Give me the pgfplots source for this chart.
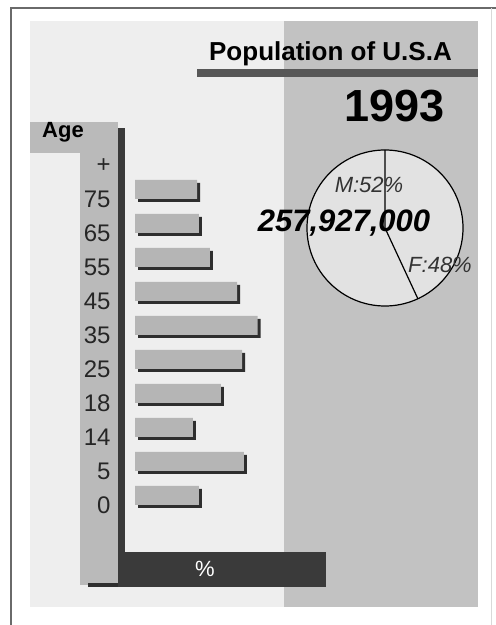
\documentclass[border=0pt]{standalone}
\usepackage{pgfplots}
\pgfplotsset{compat=1.18}
\usepackage{fontspec}
\setmainfont{Liberation Sans}
\definecolor{paneL}{HTML}{EEEEEE}
\definecolor{paneR}{HTML}{C2C2C2}
\definecolor{boxg}{HTML}{BABABA}
\definecolor{darkg}{HTML}{3A3A3A}
\definecolor{barg}{HTML}{B5B5B5}
\definecolor{shad}{HTML}{2E2E2E}
\definecolor{pief}{HTML}{E2E2E2}
\definecolor{frameg}{HTML}{6A6A6A}
\begin{document}
\begin{tikzpicture}[x=1pt,y=1pt]
\useasboundingbox (0,0) rectangle (496,625);
\fill[white] (0,0) rectangle (496,625);
% frame
\draw[frameg, line width=1.3pt] (11,0) -- (11,617) -- (496,617);
\draw[black!15, line width=1pt] (491,0) -- (491,617);
% panels
\fill[paneL] (30,18) rectangle (478,604);
\fill[paneR] (284,18) rectangle (478,604);
% title
\fill[darkg!85] (197,548) rectangle (478,556);
\node[anchor=base east, inner sep=0pt, font=\fontsize{26}{26}\selectfont\bfseries] at (452,564) {Population of U.S.A};
\node[anchor=base east, inner sep=0pt, font=\fontsize{45}{45}\selectfont\bfseries] at (445,503) {1993};
% pie
\fill[pief] (385,397) circle (78);
\draw[black, line width=1.2pt] (385,397) circle (78);
\draw[black, line width=1.2pt] (385,475) -- (385,397) -- (418,326);
\node[inner sep=0pt, font=\fontsize{22}{22}\selectfont\itshape, text=black!80] at (369,440) {M:52\%};
\node[inner sep=0pt, font=\fontsize{22}{22}\selectfont\itshape, text=black!80] at (440,360) {F:48\%};
\node[anchor=base, inner sep=0pt, font=\fontsize{31}{31}\selectfont\bfseries\itshape] at (344,393) {257,927,000};
% age box and column
\fill[boxg] (30,472) rectangle (118,503);
\node[anchor=base west, inner sep=0pt, font=\fontsize{22}{22}\selectfont\bfseries] at (42,487) {Age};
\fill[boxg] (80,40) rectangle (118,472);
\fill[shad] (88,38) rectangle (118,42);
\fill[darkg] (118,73) rectangle (125,497);
\fill[darkg] (118,38) rectangle (326,73);
\node[inner sep=0pt, text=white, font=\fontsize{22}{22}\selectfont] at (205,56) {\%};
% bars
\begin{axis}[
  at={(135pt,85.5pt)}, anchor=south west,
  scale only axis, width=148.9pt, height=408pt,
  xmin=0, xmax=17.5, ymin=-1.25, ymax=10.75,
  xbar, bar width=19pt,
  axis line style={draw=none}, tick style={draw=none},
  xtick=\empty,
  ytick={-0.25,0.75,1.75,2.75,3.75,4.75,5.75,6.75,7.75,8.75,9.75},
  yticklabels={0,5,14,18,25,35,45,55,65,75,+},
  yticklabel style={font=\fontsize{24}{24}\selectfont, inner sep=0pt, anchor=east, xshift=-20pt, text=black!85},
  /pgf/number format/assume math mode=true,
  clip=false,
]
\addplot[fill=shad, draw=none, bar shift=-1.5pt, xshift=3pt] coordinates {
 (7.5,0) (12.8,1) (6.8,2) (10.1,3) (12.6,4) (14.4,5) (12.0,6) (8.8,7) (7.5,8) (7.3,9)};
\addplot[fill=barg, draw=none, bar shift=1.5pt] coordinates {
 (7.5,0) (12.8,1) (6.8,2) (10.1,3) (12.6,4) (14.4,5) (12.0,6) (8.8,7) (7.5,8) (7.3,9)};
\end{axis}
\end{tikzpicture}
\end{document}
